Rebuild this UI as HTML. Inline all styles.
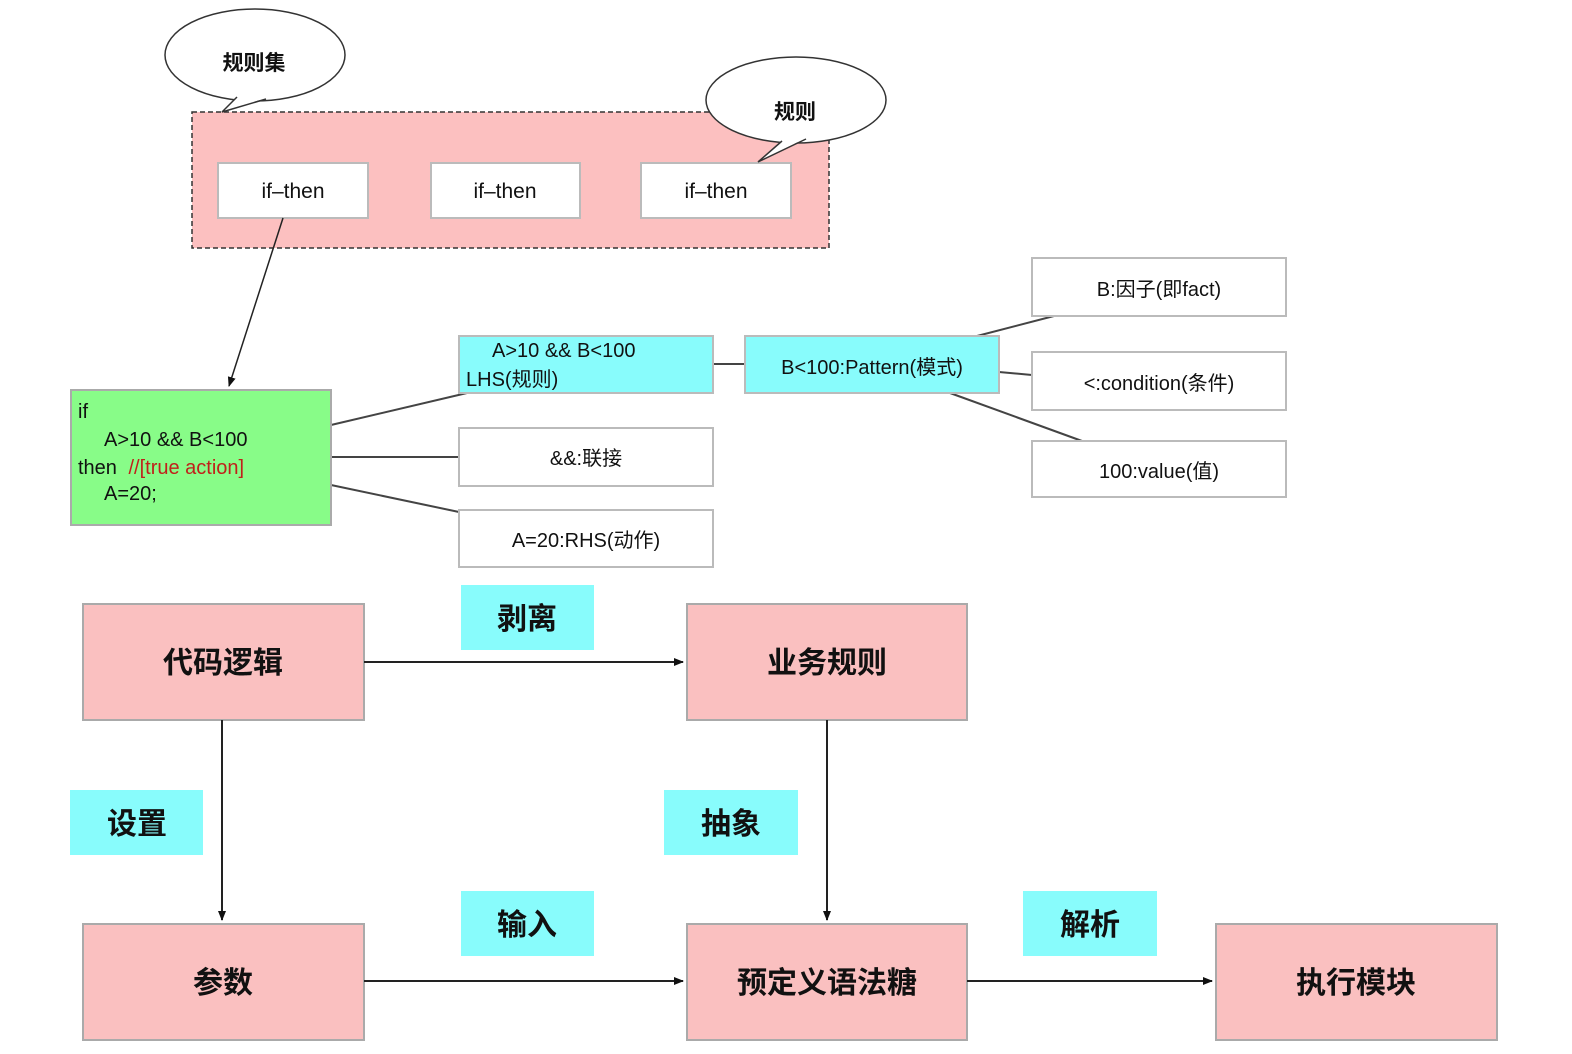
<!DOCTYPE html>
<html><head><meta charset="utf-8"><style>
html,body{margin:0;padding:0;background:#fff}
svg{display:block}
text{font-family:"Liberation Sans","Noto Sans CJK SC",sans-serif;fill:#111}
</style></head><body>
<svg width="1572" height="1054" viewBox="0 0 1572 1054" xmlns="http://www.w3.org/2000/svg">
<defs><marker id="a" markerWidth="10" markerHeight="10" refX="9" refY="5" orient="auto" markerUnits="userSpaceOnUse"><path d="M0,1 L10,5 L0,9 Z" fill="#111"/></marker></defs>
<rect x="192" y="112" width="637" height="136" fill="#fcc0c0" stroke="#333" stroke-width="1.5" stroke-dasharray="5,3"/>
<g fill="#fff" stroke="#bbb" stroke-width="2">
<rect x="218" y="163" width="150" height="55"/><rect x="431" y="163" width="149" height="55"/><rect x="641" y="163" width="150" height="55"/>
</g>
<g font-size="21" text-anchor="middle"><text x="293" y="198">if–then</text><text x="505" y="198">if–then</text><text x="716" y="198">if–then</text></g>
<ellipse cx="255" cy="55" rx="90" ry="46" fill="#fff" stroke="#333" stroke-width="1.5"/>
<polygon points="237,96 222,112 266,98" fill="#fff"/>
<polyline points="237,97 222,112 266,99" fill="none" stroke="#333" stroke-width="1.5"/>
<text x="254" y="70" font-size="21" text-anchor="middle" font-weight="bold">规则集</text>
<ellipse cx="796" cy="100" rx="90" ry="43" fill="#fff" stroke="#333" stroke-width="1.5"/>
<polygon points="782,140 758,162 806,138" fill="#fff"/>
<polyline points="782,141 758,162 806,139" fill="none" stroke="#333" stroke-width="1.5"/>
<text x="795" y="119" font-size="21" text-anchor="middle" font-weight="bold">规则</text>
<line x1="283" y1="218" x2="229" y2="386" stroke="#222" stroke-width="1.5" marker-end="url(#a)"/>
<g stroke="#444" stroke-width="2">
<line x1="331" y1="425" x2="467" y2="393"/><line x1="331" y1="457" x2="459" y2="457"/><line x1="331" y1="485" x2="459" y2="512"/>
<line x1="713" y1="364" x2="745" y2="364"/><line x1="977" y1="336" x2="1054" y2="316"/><line x1="999" y1="372" x2="1032" y2="375"/><line x1="950" y1="393" x2="1082" y2="441"/>
</g>
<rect x="71" y="390" width="260" height="135" fill="#88fc88" stroke="#aaa" stroke-width="2"/>
<g font-size="20"><text x="78" y="418">if</text><text x="104" y="446">A&gt;10 &amp;&amp; B&lt;100</text><text x="78" y="474">then <tspan fill="#c0211a" dx="6">//[true action]</tspan></text><text x="104" y="500">A=20;</text></g>
<g stroke="#bbb" stroke-width="2">
<rect x="459" y="336" width="254" height="57" fill="#88fcfc"/><rect x="745" y="336" width="254" height="57" fill="#88fcfc"/>
<rect x="459" y="428" width="254" height="58" fill="#fff"/><rect x="459" y="510" width="254" height="57" fill="#fff"/>
<rect x="1032" y="258" width="254" height="58" fill="#fff"/><rect x="1032" y="352" width="254" height="58" fill="#fff"/><rect x="1032" y="441" width="254" height="56" fill="#fff"/>
</g>
<g font-size="20"><text x="492" y="357">A&gt;10 &amp;&amp; B&lt;100</text><text x="466" y="386">LHS(规则)</text></g>
<g font-size="20" text-anchor="middle">
<text x="872" y="374">B&lt;100:Pattern(模式)</text>
<text x="586" y="465">&amp;&amp;:联接</text><text x="586" y="547">A=20:RHS(动作)</text>
<text x="1159" y="296">B:因子(即fact)</text><text x="1159" y="390">&lt;:condition(条件)</text><text x="1159" y="478">100:value(值)</text>
</g>
<g fill="#fac0c0" stroke="#aaa" stroke-width="2">
<rect x="83" y="604" width="281" height="116"/><rect x="687" y="604" width="280" height="116"/>
<rect x="83" y="924" width="281" height="116"/><rect x="687" y="924" width="280" height="116"/><rect x="1216" y="924" width="281" height="116"/>
</g>
<g fill="#88fcfc"><rect x="461" y="585" width="133" height="65"/><rect x="70" y="790" width="133" height="65"/><rect x="664" y="790" width="134" height="65"/><rect x="461" y="891" width="133" height="65"/><rect x="1023" y="891" width="134" height="65"/></g>
<g font-size="30" text-anchor="middle" font-weight="bold">
<text x="223" y="673">代码逻辑</text><text x="827" y="673">业务规则</text><text x="223" y="993">参数</text><text x="827" y="993">预定义语法糖</text><text x="1356" y="993">执行模块</text>
<text x="527" y="629">剥离</text><text x="137" y="834">设置</text><text x="731" y="834">抽象</text><text x="527" y="935">输入</text><text x="1090" y="935">解析</text>
</g>
<g stroke="#222" stroke-width="2" marker-end="url(#a)">
<line x1="364" y1="662" x2="683" y2="662"/><line x1="222" y1="720" x2="222" y2="920"/><line x1="827" y1="720" x2="827" y2="920"/>
<line x1="364" y1="981" x2="683" y2="981"/><line x1="967" y1="981" x2="1212" y2="981"/>
</g>
</svg>
</body></html>
